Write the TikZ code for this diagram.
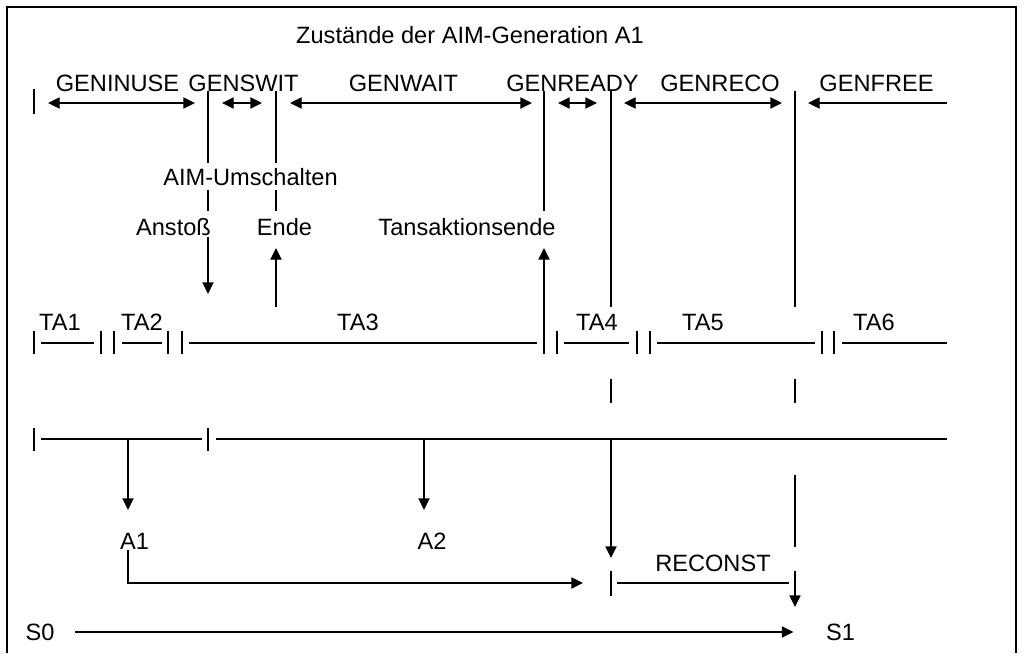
\documentclass[tikz,border=0pt]{standalone}
\usepackage{fontspec}
\setmainfont{Liberation Sans}
\usetikzlibrary{positioning,arrows.meta}

\begin{document}
\begin{tikzpicture}[x=0.5pt,y=-0.5pt,line width=0.6pt,
          lbl/.style={inner sep=0pt,font=\fontsize{11.8}{14}\selectfont},
          tip/.style={-{Triangle[length=5.8pt,width=5.6pt]}},
          both/.style={{Triangle[length=5.8pt,width=5.6pt]}-{Triangle[length=5.8pt,width=5.6pt]}}]
        \useasboundingbox (0,0) rectangle (1032,653);
        % frame, open at the bottom
        \draw (7,653) -- (7,7) -- (1016,7) -- (1016,653);
        \node[lbl] (title) at (470,35) {Zustände der AIM-Generation A1};
        % states
        \node[lbl] (geninuse) at (117.5,83.5) {GENINUSE};
        \node[lbl] (genswit)  at (243.5,83.5) {GENSWIT};
        \node[lbl] (genwait)  at (403.5,83.5) {GENWAIT};
        \node[lbl] (genready) at (572.5,83.5) {GENREADY};
        \node[lbl] (genreco)  at (720,83.5)   {GENRECO};
        \node[lbl] (genfree)  at (876.5,83.5) {GENFREE};
        \draw (34,89) -- (34,114);
        \draw[both] (48,103) -- (195,103);
        \draw[both] (222,103) -- (262,103);
        \draw[both] (290,103) -- (532,103);
        \draw[both] (558,103) -- (597,103);
        \draw[both] (624,103) -- (782,103);
        \draw[tip] (947,103) -- (808,103);
        % events
        \node[lbl] (umsch)  at (250.5,177) {AIM-Umschalten};
        \node[lbl] (anstoss) at (173.5,227) {Anstoß};
        \node[lbl] (ende)   at (284.5,227) {Ende};
        \node[lbl] (taende) at (467,227)   {Tansaktionsende};
        \coordinate (m1) at (208,91);
        \coordinate (m2) at (276,91);
        \coordinate (m3) at (544,91);
        \coordinate (m4) at (611,91);
        \coordinate (m5) at (795,91);
        \draw (m1) -- (208,163) (208,190) -- (208,211);
        \draw[tip] (208,237) -- (208,294);
        \draw (m2) -- (276,163) (276,190) -- (276,211);
        \draw[tip] (276,307) -- (276,248);
        \draw (m3) -- (544,211);
        \draw[tip] (544,354) -- (544,248);
        \draw (m4) -- (611,307) (611,379) -- (611,403);
        \draw (m5) -- (795,307) (795,379) -- (795,403);
        % transactions
        \node[lbl] (ta1) at (60,322.5)  {TA1};
        \node[lbl] (ta2) at (142,322.5) {TA2};
        \node[lbl] (ta3) at (358,322.5) {TA3};
        \node[lbl] (ta4) at (597,322.5) {TA4};
        \node[lbl] (ta5) at (703,322.5) {TA5};
        \node[lbl] (ta6) at (874,322.5) {TA6};
        \foreach \x in {34,101,114,168,182,557,637,650,822,834}
          \draw (\x,331) -- (\x,354);
        \foreach \a/\b in {41/94,122/162,189/537,564/629,657/815,842/947}
          \draw (\a,343) -- (\b,343);
        % generations
        \draw (34,428) -- (34,451) (208,428) -- (208,451);
        \draw (41,439) -- (202,439) (216,439) -- (947,439);
        \node[lbl] (a1) at (134.5,541) {A1};
        \node[lbl] (a2) at (432,541)   {A2};
        \node[lbl] (reconst) at (713,563) {RECONST};
        \coordinate (rc) at (611,583);
        \draw[tip] (128,439) -- (128,510);
        \draw[tip] (424,439) -- (424,510);
        \draw[tip] (611,439) -- (611,558);
        \draw (611,571) -- (611,596);
        \draw[tip] ([xshift=-3.25pt]a1.south) -- (128,583) -- ([xshift=-14pt]rc);
        \draw ([xshift=3pt]rc) -- (789,583);
        \draw (795,475) -- (795,547);
        \draw[tip] (795,571) -- (795,607);
        % system states
        \node[lbl] (s0) at (40,632)    {S0};
        \node[lbl] (s1) at (840.5,632) {S1};
        \draw[tip,shorten <=10pt,shorten >=16pt] (s0) -- (s1);
      \end{tikzpicture}
\end{document}
